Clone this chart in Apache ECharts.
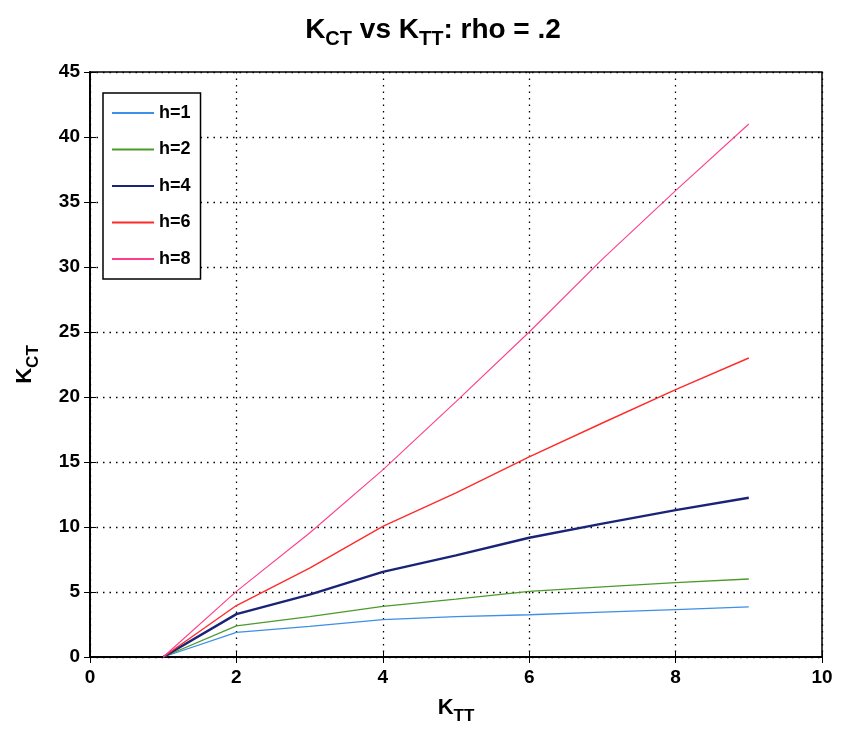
<!DOCTYPE html>
<html>
<head>
<meta charset="utf-8">
<script src="https://cdn.jsdelivr.net/npm/echarts@6/dist/echarts.min.js"></script>
<style>html,body{margin:0;padding:0;background:#fff;}#c{width:844px;height:731px;}</style>
</head>
<body>
<div id="c"></div>
<script>
const kTT = [1, 2, 3, 4, 5, 6, 7, 8, 9];
const h1 = [0, 1.9, 2.35, 2.87, 3.1, 3.25, 3.45, 3.65, 3.86];
const h2 = [0, 2.4, 3.1, 3.9, 4.45, 5.05, 5.4, 5.72, 6.0];
const h4 = [0, 3.3, 4.8, 6.55, 7.82, 9.17, 10.26, 11.3, 12.25];
const h6 = [0, 3.96, 6.84, 10.05, 12.63, 15.4, 18.0, 20.57, 23.0];
const h8 = [0, 5.05, 9.54, 14.4, 19.64, 25.0, 30.6, 35.88, 41.0];
const seriesNames = ['h=1', 'h=2', 'h=4', 'h=6', 'h=8'];
const seriesColors = ['#3d8fe8', '#4c9a2a', '#1a2378', '#ff2b2b', '#ff3d8c'];
const seriesWidths = [1.3, 1.3, 2.4, 1.4, 1.1];
const xTicks = [0, 2, 4, 6, 8, 10];
const yTicks = [0, 5, 10, 15, 20, 25, 30, 35, 40, 45];

const allData = [h1, h2, h4, h6, h8];
const font = '"Liberation Sans", Arial, sans-serif';
const chart = echarts.init(document.getElementById('c'));
const gridLine = {show: true, lineStyle: {color: '#000', type: [1.5, 5], width: 1.3}};
const labelStyle = {color: '#000', fontFamily: font, fontWeight: 'bold', fontSize: 19};
const subRich = (kSize, sSize, off) => ({
  k: {fontFamily: font, fontWeight: 'bold', fontSize: kSize, color: '#000', verticalAlign: 'top', lineHeight: kSize + 2},
  s: {fontFamily: font, fontWeight: 'bold', fontSize: sSize, color: '#000', verticalAlign: 'top', lineHeight: sSize + 2, padding: [off, 0, 0, 0]}
});
chart.setOption({
  backgroundColor: '#fff',
  animation: false,
  title: {
    text: '{k|K}{s|CT}{k| vs K}{s|TT}{k|: rho = .2}',
    left: 428, top: 11, textAlign: 'center',
    textStyle: {rich: subRich(28, 20, 13)}
  },
  grid: {left: 90, right: 22, top: 72, bottom: 74, show: true, borderColor: '#000', borderWidth: 1.5, backgroundColor: '#fff'},
  legend: {
    orient: 'vertical', left: 103, top: 93, padding: [11, 10, 11, 9],
    itemGap: 18.5, itemWidth: 42, itemHeight: 2, icon: 'rect',
    backgroundColor: '#fff', borderColor: '#000', borderWidth: 1.5,
    textStyle: {color: '#000', fontFamily: font, fontWeight: 'bold', fontSize: 18, lineHeight: 18},
    data: seriesNames
  },
  xAxis: [{
    type: 'value', min: 0, max: 10, interval: 2,
    name: '{k|K}{s|TT}', nameLocation: 'middle', nameGap: 40,
    nameTextStyle: {rich: subRich(22, 17, 11)},
    axisLine: {show: true, lineStyle: {color: '#000', width: 1.5}},
    axisTick: {show: true, inside: true, length: 6, lineStyle: {color: '#000'}},
    axisLabel: Object.assign({margin: 11, formatter: v => xTicks.includes(v) ? String(v) : ''}, labelStyle),
    splitLine: gridLine
  }, {
    type: 'value', min: 0, max: 10, interval: 2, position: 'top',
    axisLine: {show: true, lineStyle: {color: '#000', width: 1.5}},
    axisTick: {show: true, inside: true, length: 6, lineStyle: {color: '#000'}},
    axisLabel: {show: false}, splitLine: {show: false}
  }],
  yAxis: [{
    type: 'value', min: 0, max: 45, interval: 5,
    name: '{k|K}{s|CT}', nameLocation: 'middle', nameGap: 52, nameRotate: 90,
    nameTextStyle: {rich: subRich(22, 17, 11)},
    axisLine: {show: true, lineStyle: {color: '#000', width: 1.5}},
    axisTick: {show: true, inside: true, length: 6, lineStyle: {color: '#000'}},
    axisLabel: Object.assign({margin: 10, formatter: v => yTicks.includes(v) ? String(v) : ''}, labelStyle),
    splitLine: gridLine
  }, {
    type: 'value', min: 0, max: 45, interval: 5, position: 'right',
    axisLine: {show: true, lineStyle: {color: '#000', width: 1.5}},
    axisTick: {show: true, inside: true, length: 6, lineStyle: {color: '#000'}},
    axisLabel: {show: false}, splitLine: {show: false}
  }],
  series: seriesNames.map((n, i) => ({
    name: n, type: 'line', showSymbol: false, symbol: 'none',
    data: kTT.map((x, j) => [x, allData[i][j]]),
    color: seriesColors[i],
    lineStyle: {color: seriesColors[i], width: seriesWidths[i]},
    itemStyle: {color: seriesColors[i]}
  }))
});
</script>
</body>
</html>
